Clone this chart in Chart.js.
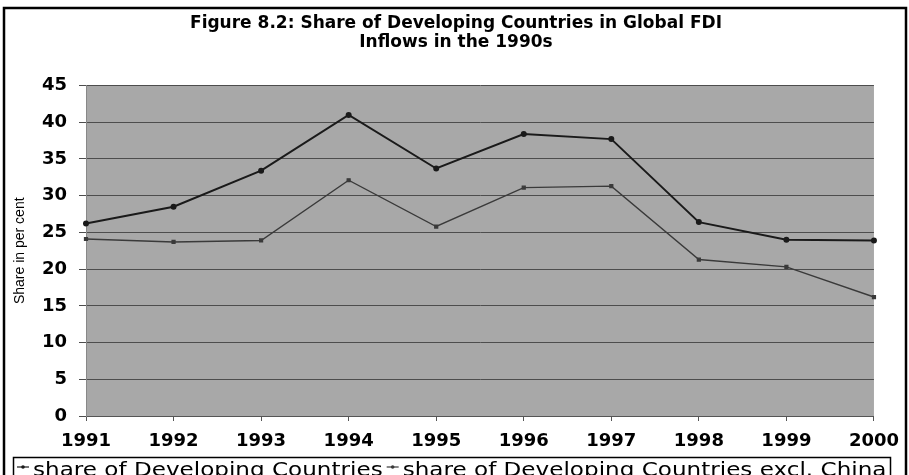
<!DOCTYPE html>
<html>
<head>
<meta charset="utf-8">
<script src="https://cdn.jsdelivr.net/npm/chart.js@4.4.1/dist/chart.umd.min.js"></script>
<style>
    html, body { margin: 0; padding: 0; background: #fff; overflow: hidden; }
    #contenedor { width: 909px; height: 485px; }
</style>
</head>
<body>
<div id="contenedor"><canvas id="fdiChart" width="909" height="485"></canvas></div>
<script>
// Datos
const anios = ['1991', '1992', '1993', '1994', '1995', '1996', '1997', '1998', '1999', '2000'];
const serieTotal = [26.2, 28.5, 33.4, 41.0, 33.7, 38.4, 37.7, 26.4, 24.0, 23.9];
const serieSinChina = [24.1, 23.7, 23.9, 32.1, 25.8, 31.1, 31.3, 21.3, 20.3, 16.2];
const nombresSeries = ['share of Developing Countries', 'share of Developing Countries excl. China'];
const tituloLineas = ['Figure 8.2: Share of Developing Countries in Global FDI', 'Inflows in the 1990s'];
const tituloEjeY = 'Share in per cent';
const ticksY = [0, 5, 10, 15, 20, 25, 30, 35, 40, 45];

Chart.defaults.color = '#000';

// Fondo gris del area de trazado
const fondoArea = {
    id: 'fondoArea',
    beforeDraw(chart) {
        const { ctx, chartArea } = chart;
        ctx.save();
        ctx.fillStyle = '#fff';
        ctx.fillRect(0, 0, chart.width, chart.height);
        ctx.fillStyle = '#a8a8a8';
        ctx.fillRect(chartArea.left, chartArea.top, chartArea.right - chartArea.left, chartArea.bottom - chartArea.top);
        ctx.restore();
    }
};

// Titulo centrado sobre todo el marco (no solo sobre el area del grafico)
const tituloCentrado = {
    id: 'tituloCentrado',
    afterDraw(chart) {
        const ctx = chart.ctx;
        ctx.save();
        ctx.fillStyle = '#000';
        ctx.font = 'bold 17px "DejaVu Sans"';
        ctx.textAlign = 'center';
        ctx.textBaseline = 'middle';
        tituloLineas.forEach(function(linea, i) {
            ctx.fillText(linea, 456, 23.5 + i * 19);
        });
        ctx.restore();
    }
};

// Marco exterior y caja de la leyenda (texto algo ensanchado como en el original)
const marcoLeyenda = {
    id: 'marcoLeyenda',
    afterDraw(chart) {
        const ctx = chart.ctx;
        const ensanche = 1.215;
        ctx.save();
        ctx.strokeStyle = '#000';
        ctx.lineWidth = 2.5;
        ctx.strokeRect(4, 8, 902, 500);

        ctx.fillStyle = '#fff';
        ctx.fillRect(13, 457, 877, 40);
        ctx.lineWidth = 1.5;
        ctx.strokeRect(13.5, 457.5, 877, 40);

        ctx.font = '19px "DejaVu Sans"';
        ctx.textBaseline = 'alphabetic';
        let x = 17;
        chart.data.datasets.forEach(function(ds) {
            ctx.strokeStyle = ds.borderColor;
            ctx.lineWidth = 1.2;
            ctx.beginPath();
            ctx.moveTo(x, 467);
            ctx.lineTo(x + 12, 467);
            ctx.stroke();
            ctx.fillStyle = ds.borderColor;
            ctx.beginPath();
            ctx.arc(x + 6, 467, 1.8, 0, Math.PI * 2);
            ctx.fill();
            ctx.fillStyle = '#000';
            ctx.save();
            ctx.translate(x + 16, 476);
            ctx.scale(ensanche, 1);
            ctx.fillText(ds.label, 0, 0);
            ctx.restore();
            x += 16 + ctx.measureText(ds.label).width * ensanche + 4;
        });
        ctx.restore();
    }
};

const ctx = document.getElementById('fdiChart').getContext('2d');
const fdiChart = new Chart(ctx, {
    type: 'line',
    data: {
        labels: anios,
        datasets: [{
            label: nombresSeries[0],
            data: serieTotal,
            borderColor: '#1a1a1a',
            backgroundColor: '#1a1a1a',
            borderWidth: 2,
            pointRadius: 2,
            pointStyle: 'circle',
            tension: 0
        }, {
            label: nombresSeries[1],
            data: serieSinChina,
            borderColor: '#3a3a3a',
            backgroundColor: '#3a3a3a',
            borderWidth: 1.4,
            pointRadius: 2,
            pointStyle: 'rect',
            tension: 0
        }]
    },
    options: {
        responsive: false,
        animation: false,
        layout: {
            padding: { left: 0, right: 35, top: 85.5, bottom: 33 }
        },
        plugins: {
            legend: { display: false },
            tooltip: { enabled: false },
            title: { display: false }
        },
        scales: {
            x: {
                offset: false,
                grid: {
                    drawOnChartArea: false,
                    drawTicks: true,
                    tickLength: 5,
                    color: '#555'
                },
                border: { display: true, color: '#555' },
                ticks: {
                    padding: 10,
                    maxRotation: 0,
                    autoSkip: false,
                    font: { family: '"DejaVu Sans"', size: 18, weight: 'bold' }
                },
                afterFit: function(scale) { scale.height = 36; }
            },
            y: {
                min: 0,
                max: 45,
                afterBuildTicks: function(scale) {
                    scale.ticks = ticksY.map(function(v) { return { value: v }; });
                },
                grid: {
                    color: '#4d4d4d',
                    tickLength: 7
                },
                border: { display: true, color: '#888' },
                ticks: {
                    padding: 12,
                    font: { family: '"DejaVu Sans"', size: 18, weight: 'bold' }
                },
                title: {
                    display: true,
                    text: tituloEjeY,
                    padding: { top: 12, bottom: 0 },
                    font: { family: '"Liberation Sans Narrow", "Liberation Sans"', size: 14 }
                },
                afterFit: function(scale) { scale.width = 86; }
            }
        }
    },
    plugins: [fondoArea, tituloCentrado, marcoLeyenda]
});
</script>
</body>
</html>
